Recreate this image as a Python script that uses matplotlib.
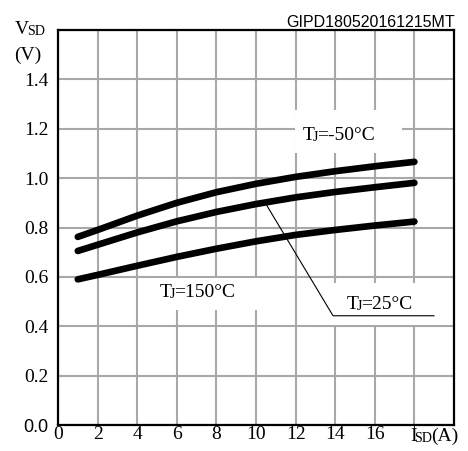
import matplotlib
matplotlib.use("Agg")
import matplotlib.pyplot as plt
from matplotlib.patches import Rectangle

# forward current (A) and forward voltage (V) per junction temperature
isd = [1, 2, 4, 6, 8, 10, 12, 14, 16, 18]
vsd_m50 = [0.762, 0.79, 0.848, 0.9, 0.943, 0.977, 1.005, 1.028, 1.048, 1.066]
vsd_25 = [0.705, 0.73, 0.78, 0.825, 0.863, 0.895, 0.922, 0.944, 0.963, 0.981]
vsd_150 = [0.59, 0.608, 0.645, 0.681, 0.714, 0.744, 0.77, 0.79, 0.808, 0.824]

xticks = [0, 2, 4, 6, 8, 10, 12, 14, 16]
yticks = [0.0, 0.2, 0.4, 0.6, 0.8, 1.0, 1.2, 1.4]

SERIF = "Liberation Serif"
SANS = "Liberation Sans"
W, H = 468, 451


def mixed(ax, px, py, parts, size=14):
    # parts drawn left to right, px/py = left edge and bottom in pixels from top-left
    fig = ax.figure
    txt, small = parts[0]
    prev = fig.text(px / W, 1 - py / H, txt, family=SERIF, ha="left", va="bottom",
                    size=size * 0.72 if small else size, zorder=6)
    for txt, small in parts[1:]:
        dx = -1.8 if small else -0.3
        prev = ax.annotate(txt, xy=(1, 0), xycoords=prev, xytext=(dx, 0),
                           textcoords="offset points", ha="left", va="bottom",
                           family=SERIF, size=size * 0.72 if small else size,
                           annotation_clip=False, zorder=6)


fig = plt.figure(figsize=(W / 100, H / 100), dpi=100)
ax = fig.add_axes([58 / W, 26 / H, 396 / W, 395 / H])

ax.set_xlim(0, 20)
ax.set_ylim(0, 1.6)
ax.set_xticks(list(range(2, 20, 2)), minor=True)
ax.set_yticks(yticks + [1.6])
ax.set_xticks(xticks)
ax.set_xticklabels([str(v) for v in xticks])
ax.set_yticklabels([("%.1f" % v) for v in yticks] + [""])
ax.tick_params(length=0, labelsize=14, pad=7)
ax.tick_params(axis="x", pad=1)
for lab in ax.get_xticklabels() + ax.get_yticklabels():
    lab.set_family(SERIF)
ax.get_yticklabels()[0].set_family(SANS)
ax.get_yticklabels()[0].set_fontsize(13)

ax.set_axisbelow(True)
ax.grid(True, which="both", axis="x", color="#a8a8a8", lw=1.5)
ax.grid(True, axis="y", color="#a8a8a8", lw=1.5)
for s in ax.spines.values():
    s.set_color("black")
    s.set_linewidth(1.6)
    s.set_zorder(7)

# white patches behind the labels
for (x0, x1, y0, y1) in [(11.97, 17.37, 1.10, 1.275),
                         (4.75, 10.2, 0.466, 0.595),
                         (12.8, 19.9, 0.405, 0.575)]:
    ax.add_patch(Rectangle((x0, y0), x1 - x0, y1 - y0, facecolor="white",
                           edgecolor="none", zorder=1.5))

for v in [vsd_m50, vsd_25, vsd_150]:
    ax.plot(isd, v, color="black", lw=4.8, solid_capstyle="round",
            solid_joinstyle="round", zorder=3)

# leader for the 25 C curve
ax.plot([10.54, 13.89, 18.99], [0.89, 0.4425, 0.4425], color="black", lw=0.8, zorder=4)

mixed(ax, 303, 144, [("T", False), ("J", True), ("=-50°C", False)])
mixed(ax, 160, 301, [("T", False), ("J", True), ("=150°C", False)])
mixed(ax, 347, 313, [("T", False), ("J", True), ("=25°C", False)])

# axis captions
mixed(ax, 15, 38, [("V", False), ("SD", True)])
fig.text(14 / W, 1 - 64 / H, "(V)", family=SERIF, size=14, ha="left", va="bottom")
mixed(ax, 410, 445, [("I", False), ("SD", True), ("(A)", False)])
fig.text(455 / W, 1 - 27 / H, "GIPD180520161215MT", family=SANS, size=11.5,
         ha="right", va="baseline")

fig.savefig("out.png", dpi=100)
